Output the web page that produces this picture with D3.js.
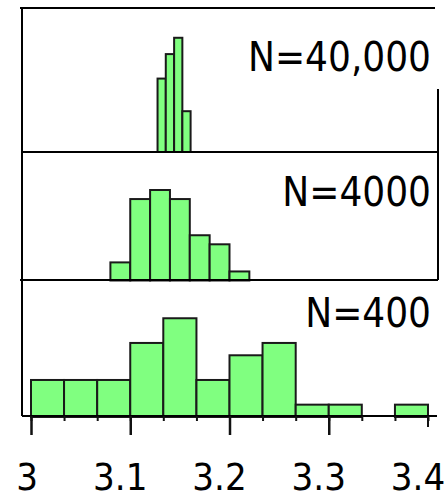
<!DOCTYPE html>
<html>
<head>
<meta charset="utf-8">
<script src="https://cdn.jsdelivr.net/npm/d3@7"></script>
<style>
  body { margin: 0; background: #fff; }
  svg { display: block; }
  .bar { fill: #80ff80; stroke: #1a1a1a; stroke-width: 2; }
  .frame { stroke: #000; stroke-width: 2; fill: none; }
  .nlabel, .tick-label { font-family: "DejaVu Sans Condensed", "DejaVu Sans", sans-serif; font-stretch: condensed; fill: #000; }
  .nlabel { font-size: 40px; text-anchor: end; }
  .tick-label { font-size: 38px; text-anchor: middle; }
</style>
</head>
<body>
<div id="chart"></div>
<script>
// Bin edges and counts for each sample size (40 estimates each)
var edges40000 = [3.1275, 3.1358, 3.1442, 3.1525, 3.1608];
var counts40000 = [9, 12, 14, 5];

var edges4000 = [3.08, 3.10, 3.12, 3.14, 3.16, 3.18, 3.20, 3.22];
var counts4000 = [2, 9, 10, 9, 5, 4, 1];

var edges400 = [3.000, 3.0333, 3.0667, 3.100, 3.1333, 3.1667, 3.200, 3.2333, 3.2667, 3.300, 3.3333, 3.3667, 3.400];
var counts400 = [3, 3, 3, 6, 8, 3, 5, 6, 1, 1, 0, 1];

var panelLabels = ["N=40,000", "N=4000", "N=400"];
var majorTicks = [3, 3.1, 3.2, 3.3, 3.4];
var tickLabels = ["3", "3.1", "3.2", "3.3", "3.4"];

// Sizes
var width = 445, height = 495;

var x = d3.scaleLinear()
    .domain([3, 3.4])
    .range([31, 428]);

// Each panel: its data, pixel band and top of count scale
var panels = [
  { edges: edges40000, counts: counts40000, label: panelLabels[0], base: 152, top: 8,   ymax: 17.65, labelY: 71 },
  { edges: edges4000,  counts: counts4000,  label: panelLabels[1], base: 280.5, top: 152, ymax: 14.2, labelY: 206 },
  { edges: edges400,   counts: counts400,   label: panelLabels[2], base: 417, top: 280, ymax: 11.1, labelY: 327 }
];

var svg = d3.select("#chart")
    .append("svg")
    .attr("width", width)
    .attr("height", height);

// Bars of every panel
panels.forEach(function (p) {
  var y = d3.scaleLinear()
      .domain([0, p.ymax])
      .range([p.base, p.top]);

  var bins = p.counts.map(function (c, i) {
    return { x0: p.edges[i], x1: p.edges[i + 1], count: c };
  }).filter(function (d) { return d.count > 0; });

  svg.append("g")
      .selectAll("rect")
      .data(bins)
      .enter().append("rect")
      .attr("class", "bar")
      .attr("x", function (d) { return x(d.x0); })
      .attr("width", function (d) { return x(d.x1) - x(d.x0); })
      .attr("y", function (d) { return y(d.count); })
      .attr("height", function (d) { return p.base - y(d.count); });

  svg.append("text")
      .attr("class", "nlabel")
      .attr("x", 431)
      .attr("y", p.labelY)
      .text(p.label);
});

// Panel frames
var frame = svg.append("g").attr("class", "frame");
var lines = [
  [20, 8, 435, 8],
  [22, 8, 22, 416],
  [438, 89, 438, 280],
  [22, 152, 438, 152],
  [20, 280, 438, 280],
  [22, 416, 437, 416]
];
frame.selectAll("line")
    .data(lines)
    .enter().append("line")
    .attr("x1", function (d) { return d[0]; })
    .attr("y1", function (d) { return d[1]; })
    .attr("x2", function (d) { return d[2]; })
    .attr("y2", function (d) { return d[3]; });

// Minor ticks at the N=400 bin edges, long ticks at each 0.1
var minorAxis = d3.axisBottom(x)
    .tickValues(edges400)
    .tickSize(5)
    .tickFormat("");
svg.append("g")
    .attr("transform", "translate(0,416)")
    .call(minorAxis)
    .call(function (g) { g.select(".domain").remove(); })
    .selectAll("line").attr("stroke", "#111").attr("stroke-width", 2);

var majorAxis = d3.axisBottom(x)
    .tickValues(majorTicks.slice(0, 4))
    .tickSize(19)
    .tickFormat("");
svg.append("g")
    .attr("transform", "translate(0,416)")
    .call(majorAxis)
    .call(function (g) { g.select(".domain").remove(); })
    .selectAll("line").attr("stroke", "#111").attr("stroke-width", 2.5);

svg.append("line")
    .attr("x1", x(3.4)).attr("x2", x(3.4))
    .attr("y1", 416).attr("y2", 427)
    .attr("stroke", "#111").attr("stroke-width", 2);

// Tick labels
svg.append("g")
    .selectAll("text")
    .data(majorTicks)
    .enter().append("text")
    .attr("class", "tick-label")
    .attr("x", function (d, i) { return x(d) + (tickLabels[i].length > 1 ? -10 : -4); })
    .attr("y", 490)
    .text(function (d, i) { return tickLabels[i]; });
</script>
</body>
</html>
